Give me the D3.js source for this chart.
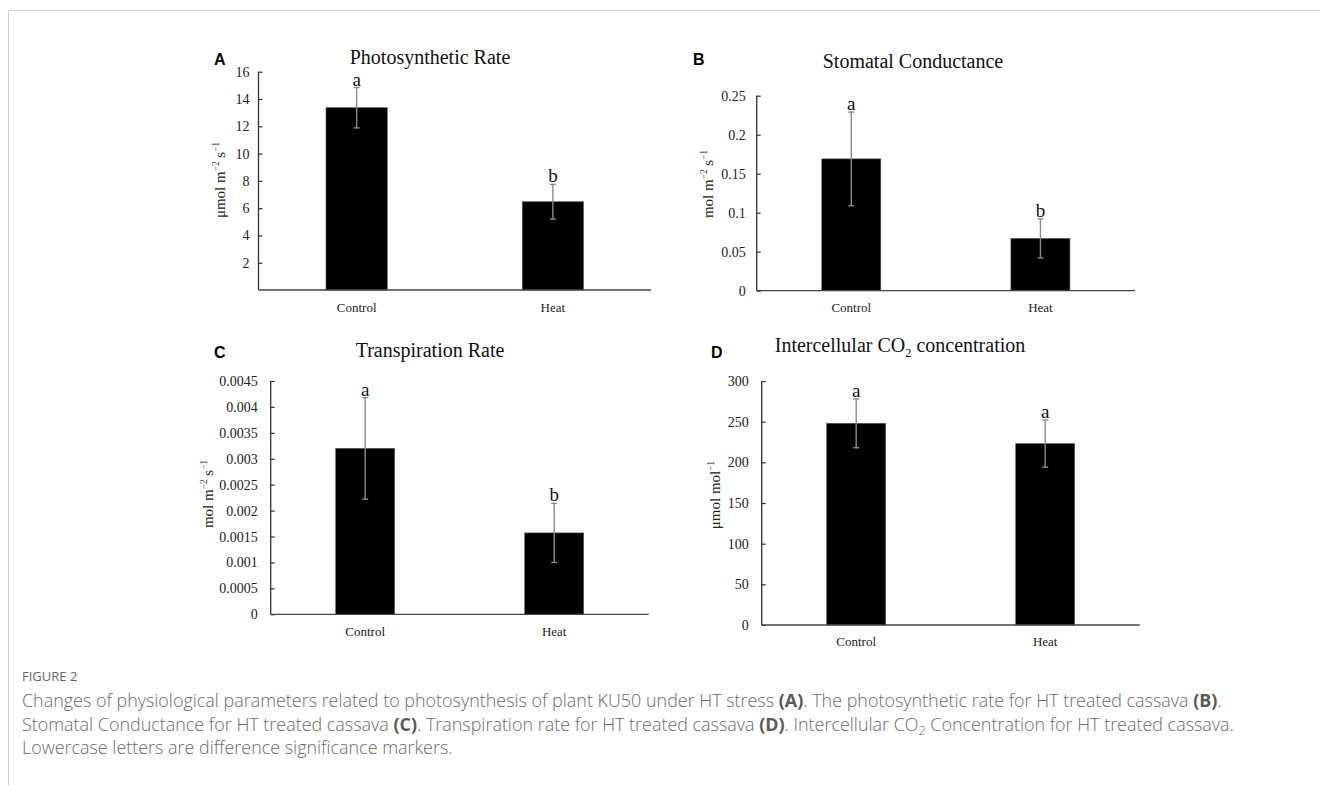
<!DOCTYPE html>
<html>
<head>
<meta charset="utf-8">
<script src="https://cdn.jsdelivr.net/npm/d3@7"></script>
<style>
  html, body { margin: 0; padding: 0; background: #fff; }
  svg { display: block; }
</style>
</head>
<body>
<script>
// ---------------- DATA ----------------
const categories = ["Control", "Heat"];

const photoMeans = [13.36, 6.47];
const photoErrors = [1.48, 1.27];
const photoLetters = ["a", "b"];
const photoTicks = [2, 4, 6, 8, 10, 12, 14, 16];

const stomaMeans = [0.169, 0.067];
const stomaErrors = [0.06, 0.025];
const stomaLetters = ["a", "b"];
const stomaTicks = [0, 0.05, 0.1, 0.15, 0.2, 0.25];

const transMeans = [0.0032, 0.00157];
const transErrors = [0.00098, 0.00057];
const transLetters = ["a", "b"];
const transTicks = [0, 0.0005, 0.001, 0.0015, 0.002, 0.0025, 0.003, 0.0035, 0.004, 0.0045];

const co2Means = [248, 223];
const co2Errors = [30, 29];
const co2Letters = ["a", "a"];
const co2Ticks = [0, 50, 100, 150, 200, 250, 300];

// ---------------- LAYOUT ----------------
const W = 1320, H = 785;
const serif = "'Liberation Serif', 'Times New Roman', serif";
const sans = "'Liberation Sans', Arial, sans-serif";

const svg = d3.select("body").append("svg")
  .attr("width", W).attr("height", H);

// frame
svg.append("path")
  .attr("d", `M8.5,${H} V10.5 H${W}`)
  .attr("fill", "none").attr("stroke", "#cfcfcf").attr("stroke-width", 1);

const panels = [
  { label: "A", title: [{t: "Photosynthetic Rate"}], titleX: 430, titleY: 64,
    labelX: 214, labelY: 65,
    x0: 258.5, x1: 651, yTop: 71.7, yBot: 290, domain: [0, 16],
    ticks: photoTicks, means: photoMeans, errs: photoErrors, letters: photoLetters,
    fmt: d => String(d), tickPad: 5,
    yTitle: [{t: "μmol m"}, {t: "−2", sup: true}, {t: " s"}, {t: "−1", sup: true}],
    yTitleX: 225, yTitleY: 180, xLabY: 312 },
  { label: "B", title: [{t: "Stomatal Conductance"}], titleX: 913, titleY: 68,
    labelX: 693, labelY: 65,
    x0: 756.7, x1: 1135, yTop: 95.7, yBot: 290.7, domain: [0, 0.25],
    ticks: stomaTicks, means: stomaMeans, errs: stomaErrors, letters: stomaLetters,
    fmt: d => String(d), tickPad: 7,
    yTitle: [{t: "mol m"}, {t: "−2", sup: true}, {t: " s"}, {t: "−1", sup: true}],
    yTitleX: 713, yTitleY: 184, xLabY: 312 },
  { label: "C", title: [{t: "Transpiration Rate"}], titleX: 430, titleY: 357,
    labelX: 214, labelY: 358,
    x0: 270.7, x1: 648.7, yTop: 381, yBot: 614.3, domain: [0, 0.0045],
    ticks: transTicks, means: transMeans, errs: transErrors, letters: transLetters,
    fmt: d => String(+d.toFixed(4)), tickPad: 9,
    yTitle: [{t: "mol m"}, {t: "−2", sup: true}, {t: " s"}, {t: "−1", sup: true}],
    yTitleX: 213, yTitleY: 494, xLabY: 636 },
  { label: "D", title: [{t: "Intercellular CO"}, {t: "2", sub: true}, {t: " concentration"}],
    titleX: 900, titleY: 352,
    labelX: 711, labelY: 358,
    x0: 761.7, x1: 1139.7, yTop: 381, yBot: 625, domain: [0, 300],
    ticks: co2Ticks, means: co2Means, errs: co2Errors, letters: co2Letters,
    fmt: d => String(d), tickPad: 9,
    yTitle: [{t: "μmol mol"}, {t: "−1", sup: true}],
    yTitleX: 720, yTitleY: 495, xLabY: 646 }
];

function richText(sel, parts, size) {
  parts.forEach((p, i) => {
    const prev = i > 0 ? parts[i - 1] : null;
    let dy = 0;
    if (prev && prev.sup) dy += size * 0.38;
    if (prev && prev.sub) dy -= size * 0.25;
    if (p.sup) dy -= size * 0.38;
    if (p.sub) dy += size * 0.25;
    sel.append("tspan")
      .attr("dy", dy)
      .attr("font-size", (p.sup || p.sub) ? size * 0.62 : size)
      .text(p.t);
  });
}

panels.forEach(p => {
  const g = svg.append("g");
  const x = d3.scaleBand().domain(categories).range([p.x0, p.x1])
    .paddingInner(0.688).paddingOuter(0.344);
  const y = d3.scaleLinear().domain(p.domain).range([p.yBot, p.yTop]);

  // bars
  g.selectAll("rect.bar").data(categories).join("rect")
    .attr("class", "bar")
    .attr("x", d => x(d))
    .attr("width", x.bandwidth())
    .attr("y", (d, i) => y(p.means[i]))
    .attr("height", (d, i) => y(0) - y(p.means[i]))
    .attr("fill", "#000")
    .attr("stroke", "#555").attr("stroke-width", 0.6);

  // error bars
  const cx = d => x(d) + x.bandwidth() / 2;
  const eg = g.selectAll("g.err").data(categories).join("g").attr("class", "err")
    .attr("stroke", "#8a8a8a").attr("stroke-width", 1.4);
  eg.append("line")
    .attr("x1", cx).attr("x2", cx)
    .attr("y1", (d, i) => y(p.means[i] + p.errs[i]))
    .attr("y2", (d, i) => y(p.means[i] - p.errs[i]));
  eg.append("line")
    .attr("x1", d => cx(d) - 3).attr("x2", d => cx(d) + 3)
    .attr("y1", (d, i) => y(p.means[i] + p.errs[i]))
    .attr("y2", (d, i) => y(p.means[i] + p.errs[i]));
  eg.append("line")
    .attr("x1", d => cx(d) - 3).attr("x2", d => cx(d) + 3)
    .attr("y1", (d, i) => y(p.means[i] - p.errs[i]))
    .attr("y2", (d, i) => y(p.means[i] - p.errs[i]));

  // significance letters
  g.selectAll("text.sig").data(categories).join("text")
    .attr("class", "sig")
    .attr("x", cx)
    .attr("y", (d, i) => y(p.means[i] + p.errs[i]) - 2)
    .attr("text-anchor", "middle")
    .attr("font-family", serif).attr("font-size", 19).attr("fill", "#111")
    .text((d, i) => p.letters[i]);

  // y axis
  const yAxis = d3.axisLeft(y).tickValues(p.ticks).tickFormat(p.fmt)
    .tickSize(-4).tickPadding(p.tickPad + 4);
  const ya = g.append("g").attr("transform", `translate(${p.x0},0)`).call(yAxis);
  ya.select(".domain").attr("d", `M0,${p.yTop}V${p.yBot}`)
    .attr("stroke", "#333").attr("stroke-width", 1.3);
  ya.selectAll(".tick line").attr("stroke", "#333").attr("stroke-width", 1.2);
  ya.selectAll(".tick text").attr("font-family", serif).attr("font-size", 14).attr("fill", "#222");

  // x axis
  const xAxis = d3.axisBottom(x).tickSize(0).tickPadding(0);
  const xa = g.append("g").attr("transform", `translate(0,${p.yBot})`).call(xAxis);
  xa.select(".domain").attr("d", `M${p.x0},0H${p.x1}`)
    .attr("stroke", "#444").attr("stroke-width", 1.3);
  xa.selectAll(".tick text").attr("font-family", serif).attr("font-size", 13)
    .attr("fill", "#222").attr("dy", null).attr("y", p.xLabY - p.yBot);

  // y title
  const yt = g.append("text")
    .attr("transform", `translate(${p.yTitleX},${p.yTitleY}) rotate(-90)`)
    .attr("text-anchor", "middle")
    .attr("font-family", serif).attr("fill", "#222");
  richText(yt, p.yTitle, 15);

  // title
  const tt = g.append("text").attr("x", p.titleX).attr("y", p.titleY)
    .attr("text-anchor", "middle").attr("font-family", serif).attr("fill", "#111");
  richText(tt, p.title, 20);

  // panel label
  g.append("text").attr("x", p.labelX).attr("y", p.labelY)
    .attr("font-family", sans).attr("font-weight", "bold").attr("font-size", 16)
    .attr("fill", "#000").text(p.label);
});

// ---------------- CAPTION ----------------
const capFont = "'Open Sans', 'Noto Sans', sans-serif";
svg.append("text").attr("x", 22).attr("y", 681)
  .attr("font-family", capFont).attr("font-size", 13).attr("fill", "#666")
  .text("FIGURE 2");

const captionLines = [
  [{t: "Changes of physiological parameters related to photosynthesis of plant KU50 under HT stress "}, {t: "(A)", b: true},
   {t: ". The photosynthetic rate for HT treated cassava "}, {t: "(B)", b: true}, {t: "."}],
  [{t: "Stomatal Conductance for HT treated cassava "}, {t: "(C)", b: true}, {t: ". Transpiration rate for HT treated cassava "},
   {t: "(D)", b: true}, {t: ". Intercellular CO"}, {t: "2", sub: true}, {t: " Concentration for HT treated cassava."}],
  [{t: "Lowercase letters are difference significance markers."}]
];
const capY = [707, 730.5, 754];
const capSize = 14.6;
const capNodes = captionLines.map((line, li) => {
  const t = svg.append("text").attr("x", 22).attr("y", capY[li])
    .attr("font-family", capFont).attr("font-weight", 300).attr("font-size", capSize).attr("fill", "#6b6b6b");
  line.forEach((p, i) => {
    const prev = i > 0 ? line[i - 1] : null;
    let dy = 0;
    if (prev && prev.sub) dy -= capSize * 0.25;
    if (p.sub) dy += capSize * 0.25;
    const s = t.append("tspan").attr("dy", dy).text(p.t);
    if (p.sub) s.attr("font-size", capSize * 0.7);
    if (p.b) s.attr("font-weight", 700).attr("fill", "#5a5a5a");
  });
  return t;
});
// fit first line to the reference width
const targetW = 1200;
const w0 = capNodes[0].node().getComputedTextLength();
if (w0 > 0) {
  const k = targetW / w0;
  const ns = capSize * k;
  capNodes.forEach(n => {
    n.attr("font-size", ns);
    n.selectAll("tspan").each(function() {
      const fs = d3.select(this).attr("font-size");
      if (fs) d3.select(this).attr("font-size", +fs * k);
      const dy = +d3.select(this).attr("dy");
      d3.select(this).attr("dy", dy * k);
    });
  });
}
</script>
</body>
</html>
